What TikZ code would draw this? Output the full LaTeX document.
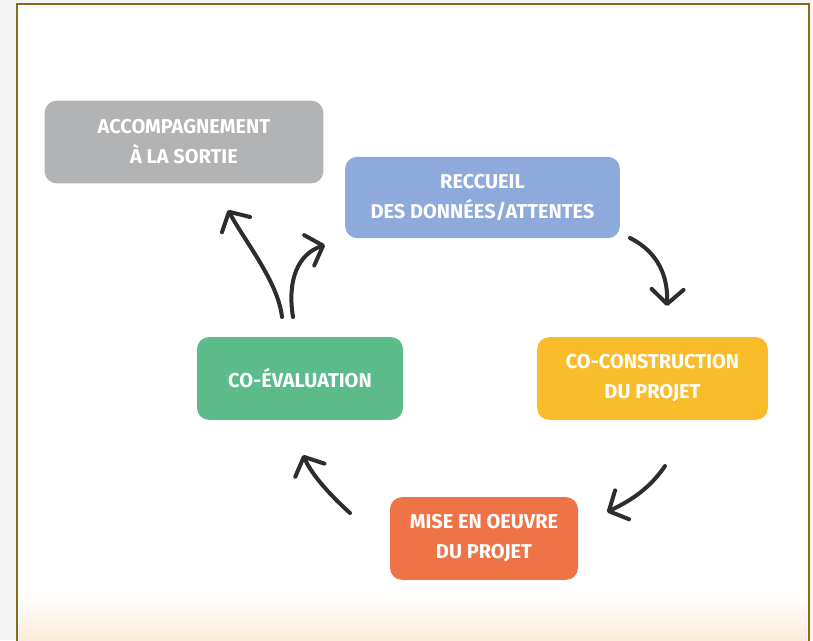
\documentclass[tikz,border=0pt]{standalone}
\usepackage{fontspec}
\setmainfont{Fira Sans}
\usetikzlibrary{arrows.meta}
\definecolor{bgout}{HTML}{F4F4F4}
\definecolor{framec}{HTML}{8C6A1C}
\definecolor{peach}{HTML}{FCEBDA}
\definecolor{grayb}{HTML}{B2B3B5}
\definecolor{blueb}{HTML}{8EAADC}
\definecolor{yellowb}{HTML}{F9BD2B}
\definecolor{greenb}{HTML}{5BBB8B}
\definecolor{orangeb}{HTML}{EE7447}
\definecolor{arrowc}{HTML}{2D2D2D}
\tikzset{
  stagebox/.style={rounded corners=9pt, inner sep=0pt, align=center, text=white,
    font=\bfseries\fontsize{15}{22.5}\selectfont, minimum height=62pt},
  cyclearrow/.style={draw=arrowc, line width=3pt, line cap=round,
    -{Straight Barb[length=11pt,width=24pt,round]}}
}
\begin{document}
\begin{tikzpicture}[x=0.75pt,y=-0.75pt]
\useasboundingbox (0,0) rectangle (813,640);
\fill[bgout] (0,0) rectangle (813,640);
\fill[white] (17,4) rectangle (809,640);
\shade[top color=white,bottom color=peach] (19,595) rectangle (807,640);
\draw[framec, line width=1.9pt] (17,645) -- (17,4) -- (809,4) -- (809,645);

\node[stagebox, fill=grayb, minimum width=209pt] (sortie) at (184,142) {ACCOMPAGNEMENT\\À LA SORTIE};
\node[stagebox, fill=blueb, minimum width=206pt, minimum height=61pt] (recueil) at (482.5,197.5) {RECCUEIL\\DES DONNÉES/ATTENTES};
\node[stagebox, fill=yellowb, minimum width=173pt] (coconst) at (652.5,378.5) {CO-CONSTRUCTION\\DU PROJET};
\node[stagebox, fill=greenb, minimum width=154.5pt] (coeval) at (300,378.5) {CO-ÉVALUATION};
\node[stagebox, fill=orangeb, minimum width=141pt] (mise) at (484,538.5) {MISE EN OEUVRE\\DU PROJET};

\coordinate (a1s) at (630,238);
\coordinate (a1e) at (667,306);
\coordinate (a2s) at (665,466);
\coordinate (a2e) at (607,512);
\coordinate (a3s) at (350,513);
\coordinate (a3e) at (303,455);
\coordinate (a4s) at (282,317);
\coordinate (a4e) at (228,210);
\coordinate (a5s) at (293,317);
\coordinate (a5e) at (325,245);

\draw[cyclearrow] (a1s) .. controls (658,252) and (668,276) .. (a1e);
\draw[cyclearrow] (a2s) .. controls (650,488) and (632,500) .. (a2e);
\draw[cyclearrow] (a3s) .. controls (330,495) and (312,475) .. (a3e);
\draw[cyclearrow] (a4s) .. controls (278,282) and (246,243) .. (a4e);
\draw[cyclearrow] (a5s) .. controls (287,280) and (298,254) .. (a5e);
\end{tikzpicture}
\end{document}
